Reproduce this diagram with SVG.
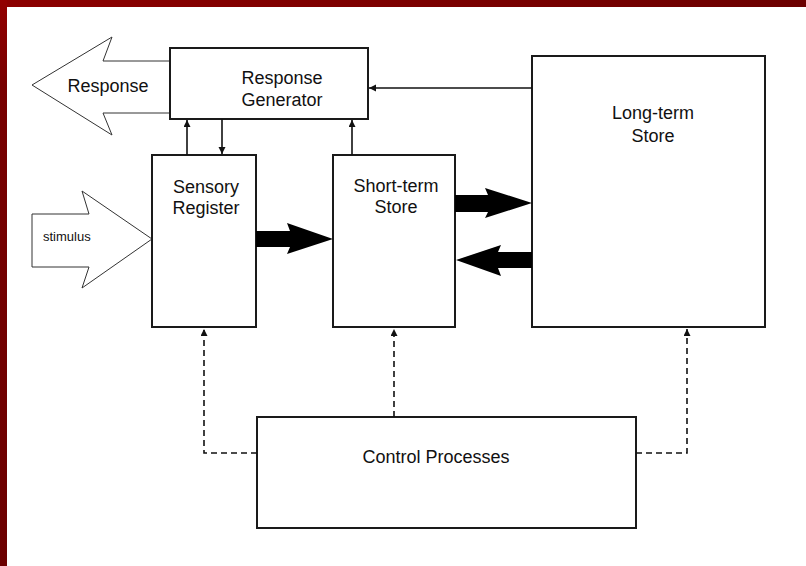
<svg xmlns="http://www.w3.org/2000/svg" width="806" height="566" viewBox="0 0 806 566">
<defs>
<linearGradient id="topband" x1="0" y1="0" x2="1" y2="0">
<stop offset="0" stop-color="#8c0000"/>
<stop offset="1" stop-color="#6c0000"/>
</linearGradient>
<linearGradient id="leftband" x1="0" y1="0" x2="0" y2="1">
<stop offset="0" stop-color="#920000"/>
<stop offset="0.15" stop-color="#780000"/>
<stop offset="1" stop-color="#6c0000"/>
</linearGradient>
<marker id="ah" markerUnits="userSpaceOnUse" markerWidth="8" markerHeight="8" refX="7" refY="3.5" orient="auto">
<path d="M0,0 L7,3.5 L0,7 z" fill="#111"/>
</marker>
<style>
.box{fill:#fff;stroke:#1a1a1a;stroke-width:2}
.big{fill:#fff;stroke:#333;stroke-width:1}
.thick{fill:#000;stroke:none}
.line{fill:none;stroke:#111;stroke-width:1.6;marker-end:url(#ah)}
.dash{fill:none;stroke:#111;stroke-width:1.6;stroke-dasharray:6 4;marker-end:url(#ah)}
text{font-family:"Liberation Sans",Arial,sans-serif;font-size:18px;fill:#111;text-anchor:middle}
.small{font-size:13px;text-anchor:start}
</style>
</defs>
<rect x="0" y="0" width="806" height="566" fill="#fff"/>
<rect x="0" y="0" width="806" height="7" fill="url(#topband)"/>
<rect x="0" y="0" width="7" height="566" fill="url(#leftband)"/>

<g id="response-arrow">
<path class="big" d="M170,61 L103,61 L112,37 L32,85 L112,135 L103,113 L170,113"/>
<text x="108" y="92">Response</text>
</g>

<g id="stimulus-arrow">
<path class="big" d="M32,214 L89,214 L82,191 L152,239 L82,288 L89,267 L32,267 Z"/>
<text class="small" x="43" y="241">stimulus</text>
</g>

<g id="response-generator">
<rect class="box" x="170" y="48" width="198" height="71"/>
<text x="282" y="84">Response</text>
<text x="282" y="106">Generator</text>
</g>

<g id="sensory-register">
<rect class="box" x="152" y="155" width="104" height="172"/>
<text x="206" y="193">Sensory</text>
<text x="206" y="214">Register</text>
</g>

<g id="short-term-store">
<rect class="box" x="333" y="155" width="122" height="172"/>
<text x="396" y="192">Short-term</text>
<text x="396" y="213">Store</text>
</g>

<g id="long-term-store">
<rect class="box" x="532" y="56" width="233" height="271"/>
<text x="653" y="119">Long-term</text>
<text x="653" y="142">Store</text>
</g>

<g id="control-processes">
<rect class="box" x="257" y="417" width="379" height="111"/>
<text x="436" y="463">Control Processes</text>
</g>

<g id="connectors">
<line class="line" x1="187" y1="155" x2="187" y2="120"/>
<line class="line" x1="222" y1="119" x2="222" y2="154"/>
<line class="line" x1="352" y1="155" x2="352" y2="120"/>
<line class="line" x1="532" y1="88" x2="369" y2="88"/>
<path class="thick" d="M256,231 L290,231 L287,223 L333,239 L287,254 L290,247 L256,247 Z"/>
<path class="thick" d="M455,195 L488,195 L485,188 L532,203 L485,218 L488,212 L455,212 Z"/>
<path class="thick" d="M532,252 L498,252 L501,245 L456,260 L501,276 L498,268 L532,268 Z"/>
<path class="dash" d="M257,453 H204 V329"/>
<path class="dash" d="M394,417 V329"/>
<path class="dash" d="M636,453 H687 V329"/>
</g>
</svg>
